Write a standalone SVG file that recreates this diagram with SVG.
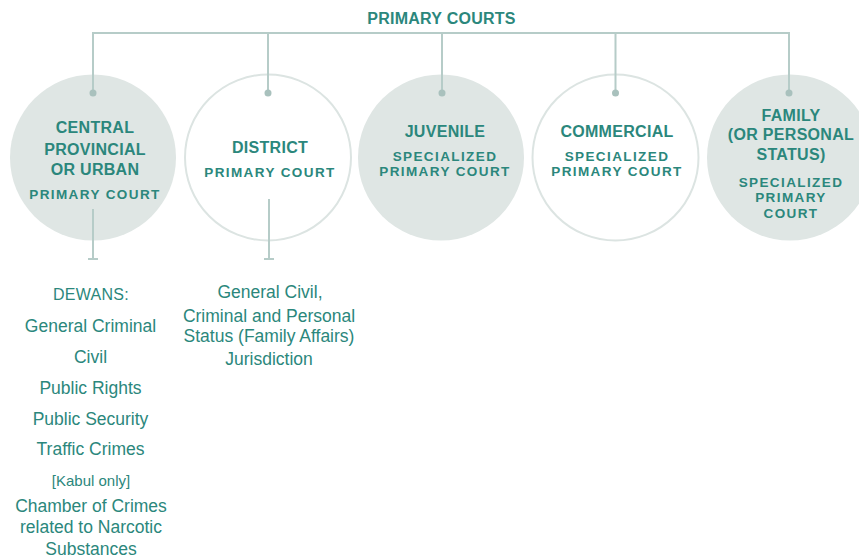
<svg xmlns="http://www.w3.org/2000/svg" width="859" height="558" viewBox="0 0 859 558">
<defs>
<style>
.t{font-family:"Liberation Sans",Arial,sans-serif;fill:#2b877c;text-anchor:middle}
.h{font-weight:bold;font-size:16px;letter-spacing:0.3px}
.s{font-weight:bold;font-size:13.5px;letter-spacing:1.4px}
.b{font-size:17.5px}
.ln{stroke:#b6ccc8;stroke-width:2;fill:none}
.dot{fill:#a9c1bd}
.fill{fill:#dfe6e4}
.ring{fill:#ffffff;stroke:#dce4e2;stroke-width:2}
</style>
</defs>
<rect width="859" height="558" fill="#ffffff"/>
<text class="t" x="441.5" y="24" font-weight="bold" font-size="16px" letter-spacing="0.25">PRIMARY COURTS</text>
<g id="n1">
<circle class="fill" cx="93" cy="157.5" r="83"/>
<text class="t h" x="95" y="133">CENTRAL</text>
<text class="t h" x="95" y="155">PROVINCIAL</text>
<text class="t h" x="95" y="175">OR URBAN</text>
<text class="t s" x="95" y="199">PRIMARY COURT</text>
</g>
<g id="n2">
<circle class="ring" cx="268" cy="157.5" r="83"/>
<text class="t h" x="270" y="153">DISTRICT</text>
<text class="t s" x="270" y="177">PRIMARY COURT</text>
</g>
<g id="n3">
<circle class="fill" cx="441" cy="157.5" r="83"/>
<text class="t h" x="445" y="137">JUVENILE</text>
<text class="t s" x="445" y="161">SPECIALIZED</text>
<text class="t s" x="445" y="176">PRIMARY COURT</text>
</g>
<g id="n4">
<circle class="ring" cx="615.5" cy="157.5" r="83"/>
<text class="t h" x="617" y="137">COMMERCIAL</text>
<text class="t s" x="617" y="161">SPECIALIZED</text>
<text class="t s" x="617" y="176">PRIMARY COURT</text>
</g>
<g id="n5">
<circle class="fill" cx="790" cy="157.5" r="83"/>
<text class="t h" x="791" y="121">FAMILY</text>
<text class="t h" x="791" y="140">(OR PERSONAL</text>
<text class="t h" x="791" y="160">STATUS)</text>
<text class="t s" x="791" y="187">SPECIALIZED</text>
<text class="t s" x="791" y="202">PRIMARY</text>
<text class="t s" x="791" y="218">COURT</text>
</g>
<g id="connectors">
<path class="ln" d="M93 93V33H789V93M268 33V93M442 33V93M615.5 33V93"/>
<circle class="dot" cx="93" cy="93" r="3.5"/>
<circle class="dot" cx="268" cy="93" r="3.5"/>
<circle class="dot" cx="442" cy="93" r="3.5"/>
<circle class="dot" cx="615.5" cy="93" r="3.5"/>
<circle class="dot" cx="789" cy="93" r="3.5"/>
<path class="ln" d="M93 209V259M88 259H98M269 199V259M264 259H274"/>
</g>
<g id="dewans">
<text class="t" x="91" y="300" font-size="16px" letter-spacing="0.3">DEWANS:</text>
<text class="t b" x="90.5" y="332">General Criminal</text>
<text class="t b" x="90.5" y="363">Civil</text>
<text class="t b" x="90.5" y="394">Public Rights</text>
<text class="t b" x="90.5" y="425">Public Security</text>
<text class="t b" x="90.5" y="455" fill="#3a978c">Traffic Crimes</text>
<text class="t" x="91" y="486" font-size="15px">[Kabul only]</text>
<text class="t b" x="91" y="512">Chamber of Crimes</text>
<text class="t b" x="91" y="533">related to Narcotic</text>
<text class="t b" x="91" y="555">Substances</text>
</g>
<g id="district-scope">
<text class="t b" x="270" y="298">General Civil,</text>
<text class="t b" x="269" y="322">Criminal and Personal</text>
<text class="t b" x="269" y="342">Status (Family Affairs)</text>
<text class="t b" x="269" y="365">Jurisdiction</text>
</g>
</svg>
